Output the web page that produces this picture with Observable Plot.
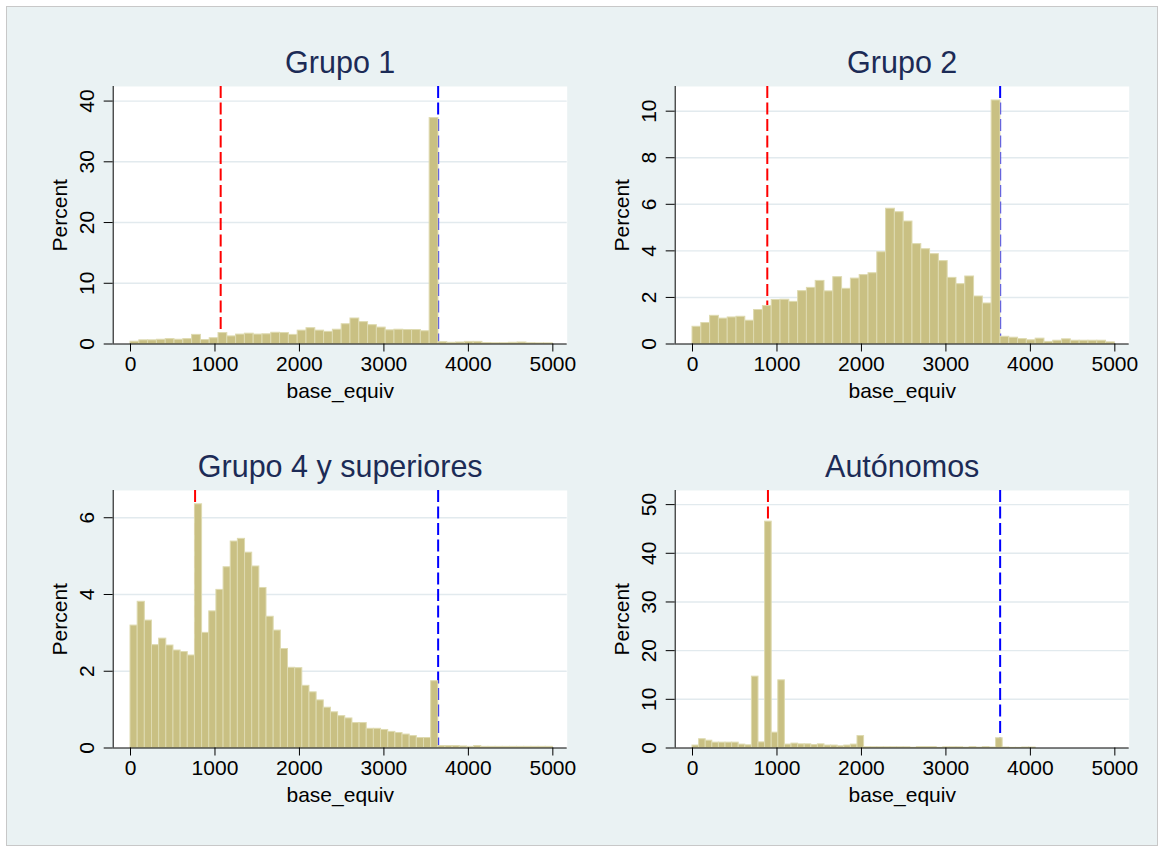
<!DOCTYPE html>
<html><head><meta charset="utf-8">
<script src="https://cdn.jsdelivr.net/npm/d3@7"></script>
<script src="https://cdn.jsdelivr.net/npm/@observablehq/plot@0.6"></script>
<style>
body{margin:0;background:#fff;}
#wrap{position:relative;width:1163px;height:851px;overflow:hidden;background:#fff;}
#bg{position:absolute;left:6px;top:6px;width:1150px;height:838px;background:#EAF2F3;border:1px solid #C8C8C8;}
.panel{position:absolute;}
</style></head><body><div id="wrap"><div id="bg"></div></div>
<script>
// ---- data (percent per bin, bins of equal width over 0..5000) ----
const panelTitles = ["Grupo 1", "Grupo 2", "Grupo 4 y superiores", "Autónomos"];
const xTicks = [0, 1000, 2000, 3000, 4000, 5000];
const xMaxValue = 5000;
const minBases = [1067.4, 885.3, 764.4, 893.1];
const maxBase = 3642;

const grupo1 = [0.38,0.6,0.6,0.7,0.8,0.7,0.8,1.5,0.65,0.95,
  1.8,1.25,1.55,1.7,1.55,1.6,1.85,1.8,1.5,2.2,
  2.6,2.2,2.0,2.35,3.25,4.2,3.6,3.1,2.7,2.25,
  2.35,2.3,2.3,2.1,37.2,0.3,0.2,0.25,0.35,0.35,
  0.15,0.12,0.12,0.2,0.25,0.12,0.1,0.1];
const grupo2 = [0.74,0.9,1.21,1.09,1.14,1.17,1.0,1.46,1.63,1.89,
  1.9,1.81,2.27,2.41,2.71,2.26,2.87,2.37,2.81,2.96,
  3.04,3.94,5.81,5.66,5.26,4.29,4.07,3.86,3.56,2.84,
  2.57,2.9,2.04,1.74,10.46,0.31,0.27,0.21,0.16,0.23,
  0.09,0.14,0.2,0.14,0.14,0.14,0.14,0.07];
const grupo4 = [3.19,3.81,3.32,2.68,2.85,2.67,2.54,2.5,2.41,6.35,
  3.0,3.56,4.12,4.71,5.38,5.45,5.09,4.73,4.17,3.42,
  3.06,2.58,2.09,2.08,1.62,1.45,1.24,1.05,0.93,0.83,
  0.77,0.65,0.65,0.5,0.5,0.47,0.42,0.39,0.35,0.31,
  0.26,0.26,1.74,0.05,0.05,0.05,0.04,0.03,0.05,0.03,
  0.03,0.03,0.03,0.03,0.03,0.03,0.03,0.03,0.03];
const autonomos = [0.5,1.8,1.5,1.1,1.1,1.1,1.1,0.7,0.55,14.66,
  1.15,46.5,3.15,13.9,0.7,0.9,0.75,0.75,0.6,0.75,
  0.5,0.5,0.35,0.5,0.7,2.45,0.15,0.15,0.15,0.15,
  0.15,0.15,0.15,0.07,0.2,0.2,0.2,0.05,0.15,0.15,
  0.15,0.08,0.2,0.08,0.2,0.1,2.0,0.1,0.03,0.03,
  0.1,0.1,0,0,0,0,0,0,0,0,
  0,0,0,0];
const yTicksList = [[0,10,20,30,40],[0,2,4,6,8,10],[0,2,4,6],[0,10,20,30,40,50]];
const yMaxList = [42.4, 11.06, 6.71, 52.9];
const seriesList = [grupo1, grupo2, grupo4, autonomos];

// ---- style ----
const barFill = "#C9C083", barStroke = "#DEDAB0";
const gridColor = "#E2EAEE", titleColor = "#1C2B56";
const xDomain = [-205, 5170];
const positions = [[0,0],[562.3,0],[0,404],[562.3,404]];
const font = "'Liberation Sans', Arial, sans-serif";
const tickFont = 21, axisTitleFont = 21;

function panel(i) {
  const vals = seriesList[i];
  const w = xMaxValue / vals.length;
  const bins = vals.map((v, k) => ({x1: k * w, x2: (k + 1) * w, y: v}));
  const yt = yTicksList[i];
  return Plot.plot({
    width: 580, height: 420,
    marginLeft: 112.7, marginRight: 13.3, marginTop: 86, marginBottom: 76.5,
    style: {background: "transparent", fontFamily: font, color: "#000", overflow: "visible"},
    x: {domain: xDomain},
    y: {domain: [0, yMaxList[i]]},
    marks: [
      Plot.frame({fill: "white", stroke: null}),
      Plot.ruleY(yt.filter(t => t > 0), {stroke: gridColor, strokeWidth: 1.4}),
      Plot.ruleX([minBases[i]], {stroke: "#FF0000", strokeWidth: 2, strokeDasharray: "12,4.5"}),
      Plot.ruleX([maxBase], {stroke: "#0000FF", strokeWidth: 2, strokeDasharray: "12,4.5"}),
      Plot.rectY(bins, {x1: "x1", x2: "x2", y: "y", fill: barFill, stroke: barStroke, strokeWidth: 1}),
      Plot.ruleY([0], {stroke: "#000", strokeWidth: 1}),
      Plot.ruleX([xDomain[0]], {stroke: "#000", strokeWidth: 1}),
      Plot.axisX(xTicks, {tickSize: 8, tickPadding: 4, fontSize: tickFont, label: null, stroke: "#000", tickFormat: d => String(d)}),
      Plot.axisY(yt, {tickSize: 9, tickPadding: 10, tickRotate: -90, fontSize: tickFont, label: null, stroke: "#000", tickFormat: d => String(d)}),
      Plot.text([panelTitles[i]], {frameAnchor: "top", textAnchor: "middle", lineAnchor: "middle", dy: -22.8, fontSize: 30.5, fill: titleColor}),
      Plot.text(["Percent"], {frameAnchor: "left", textAnchor: "middle", lineAnchor: "middle", dx: -52.5, rotate: -90, fontSize: axisTitleFont, fill: "#000"}),
      Plot.text(["base_equiv"], {frameAnchor: "bottom", textAnchor: "middle", lineAnchor: "middle", dy: 47, fontSize: axisTitleFont, fill: "#000"})
    ]
  });
}

const wrap = document.getElementById("wrap");
for (let i = 0; i < 4; i++) {
  const el = panel(i);
  el.classList.add("panel");
  el.style.left = positions[i][0] + "px";
  el.style.top = positions[i][1] + "px";
  el.style.position = "absolute";
  wrap.appendChild(el);
}
</script>
</body></html>
